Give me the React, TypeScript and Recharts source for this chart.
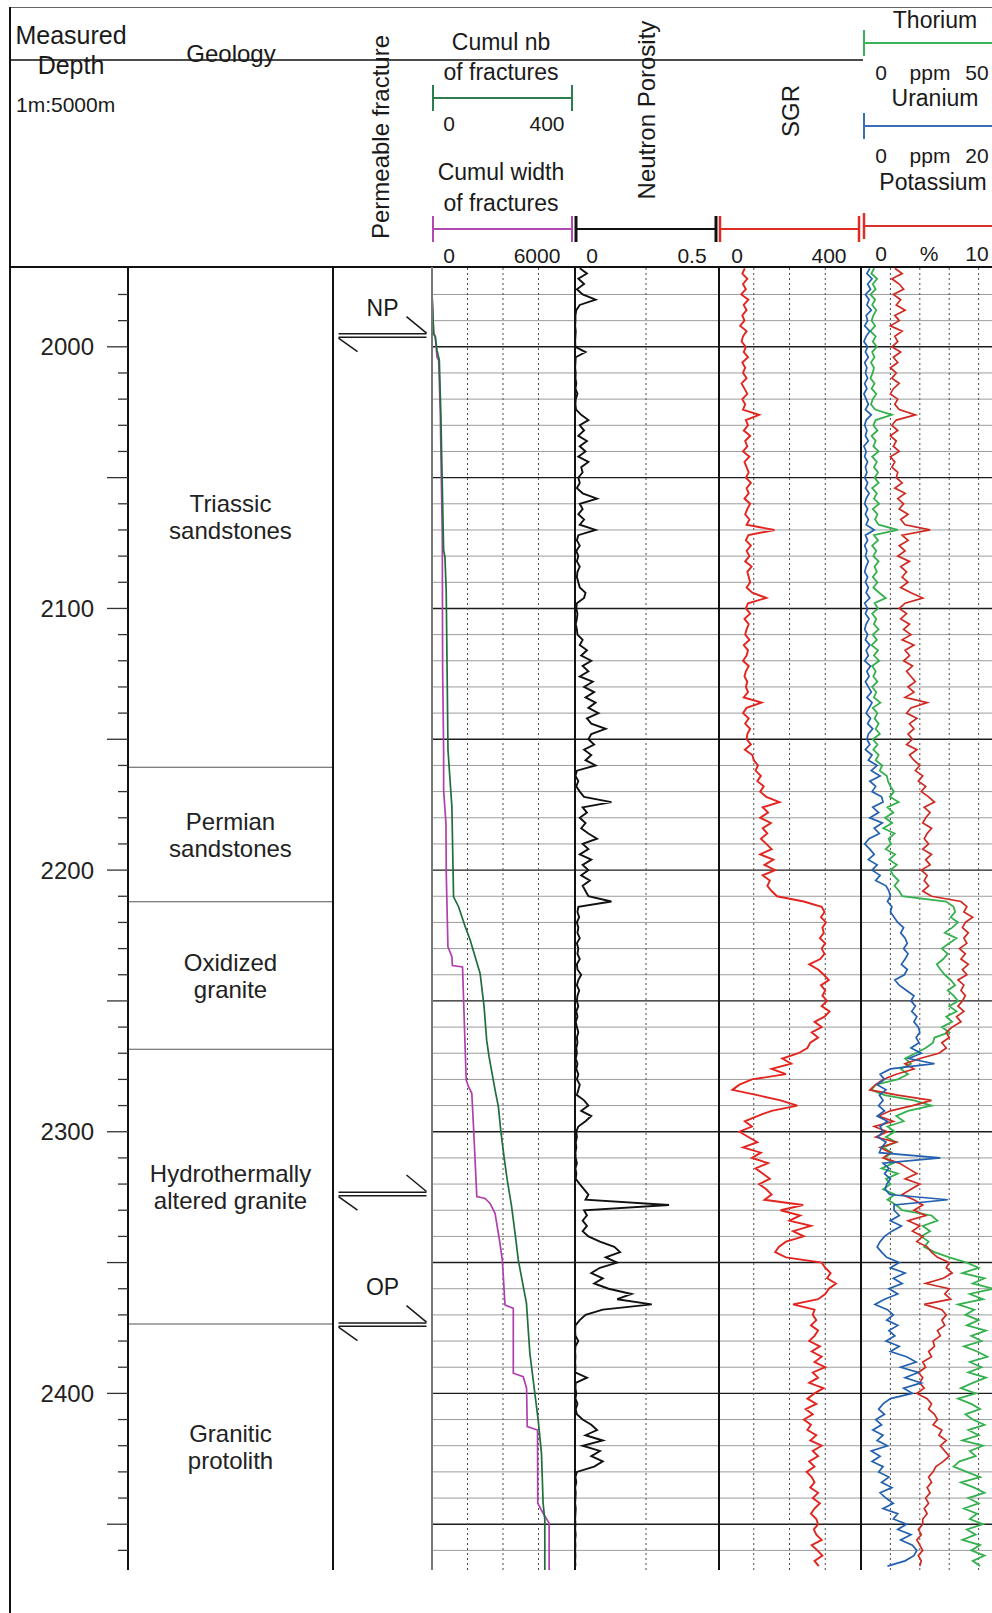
import React from "react";
import {
  ComposedChart,
  LineChart,
  Line,
  Scatter,
  XAxis,
  YAxis,
  ReferenceLine,
} from "recharts";

// depth window of the log body (m)
const DEPTH_TOP = 1969.5;
const DEPTH_BOTTOM = 2467.5;

// continuous logs, one sample every 2 m starting at 1970 m
const LOG_START = 1970;
const LOG_STEP = 2;

// neutron porosity (v/v), 0 - 0.5
const NEUTRON = [
  0.02, 0.045, 0.015, 0.035, 0.01, 0.03, 0.075, 0.02, 0.008, 0.005,
  0.005, 0.004, 0.006, 0.005, 0.004, 0.005, 0.04, 0.006, 0.005, 0.004,
  0.006, 0.005, 0.008, 0.005, 0.012, 0.006, 0.005, 0.007, 0.025, 0.05,
  0.02, 0.035, 0.015, 0.045, 0.02, 0.04, 0.015, 0.05, 0.025, 0.03,
  0.015, 0.02, 0.01, 0.03, 0.08, 0.02, 0.03, 0.015, 0.035, 0.02,
  0.075, 0.015, 0.01, 0.02, 0.008, 0.015, 0.01, 0.02, 0.012, 0.01,
  0.015, 0.02, 0.04, 0.035, 0.01, 0.008, 0.012, 0.01, 0.006, 0.01,
  0.012, 0.03, 0.02, 0.045, 0.025, 0.06, 0.03, 0.05, 0.02, 0.065,
  0.035, 0.07, 0.04, 0.075, 0.05, 0.085, 0.045, 0.06, 0.11, 0.06,
  0.05, 0.07, 0.035, 0.06, 0.04, 0.075, 0.01, 0.005, 0.015, 0.008,
  0.02, 0.035, 0.13, 0.03, 0.045, 0.02, 0.04, 0.025, 0.05, 0.08,
  0.03, 0.05, 0.02, 0.06, 0.03, 0.05, 0.025, 0.055, 0.03, 0.04,
  0.05, 0.13, 0.015, 0.012, 0.018, 0.01, 0.015, 0.012, 0.02, 0.01,
  0.015, 0.012, 0.02, 0.01, 0.012, 0.025, 0.015, 0.01, 0.018, 0.012,
  0.01, 0.015, 0.008, 0.012, 0.006, 0.01, 0.015, 0.01, 0.012, 0.008,
  0.01, 0.006, 0.012, 0.008, 0.015, 0.01, 0.02, 0.015, 0.01, 0.035,
  0.05, 0.025, 0.06, 0.04, 0.015, 0.008, 0.01, 0.006, 0.008, 0.005,
  0.006, 0.01, 0.005, 0.008, 0.006, 0.02, 0.035, 0.05, 0.04, 0.33,
  0.035, 0.045, 0.03, 0.045, 0.03, 0.05, 0.09, 0.14, 0.16, 0.11,
  0.15, 0.09, 0.06, 0.1, 0.07, 0.12, 0.2, 0.15, 0.27, 0.1,
  0.04, 0.02, 0.005, 0.004, 0.005, 0.015, 0.005, 0.004, 0.005, 0.004,
  0.005, 0.004, 0.045, 0.006, 0.005, 0.008, 0.005, 0.012, 0.006, 0.01,
  0.03, 0.06, 0.08, 0.04, 0.1, 0.03, 0.09, 0.06, 0.1, 0.07,
  0.01, 0.005, 0.008, 0.004, 0.006, 0.005, 0.004, 0.006, 0.005, 0.004,
  0.005, 0.004, 0.006, 0.004, 0.005, 0.004, 0.005, 0.004, 0.005,
];

// spectral gamma ray (API), 0 - 400
const SGR = [
  75, 68, 82, 70, 78, 65, 85, 72, 80, 68,
  74, 62, 80, 70, 66, 78, 72, 84, 68, 76,
  70, 80, 66, 74, 82, 68, 76, 70, 115, 78,
  84, 72, 90, 76, 82, 70, 88, 74, 80, 86,
  78, 92, 80, 86, 74, 90, 82, 76, 88, 80,
  158, 85, 78, 92, 80, 88, 76, 94, 82, 86,
  90, 80, 96, 135, 84, 78, 90, 74, 86, 80,
  76, 88, 72, 84, 80, 70, 86, 78, 74, 82,
  78, 84, 72, 122, 80, 70, 86, 76, 90, 82,
  80, 92, 75, 96, 100, 112, 105, 120, 110, 128,
  118, 135, 172, 125, 140, 118, 148, 125, 138, 120,
  135, 150, 118, 155, 130, 160, 125, 145, 138, 150,
  165, 240, 290, 298, 288, 302, 292, 296, 285, 300,
  290, 298, 286, 255, 280, 296, 310, 288, 300, 292,
  305, 290, 312, 298, 270, 290, 262, 280, 258, 250,
  225, 180, 205, 150, 190, 95, 60, 40, 110, 175,
  222, 150, 110, 75, 95, 60, 85, 110, 70, 120,
  95, 140, 105, 125, 145, 115, 135, 150, 130, 238,
  175, 230, 200, 260, 210, 240, 190, 170, 160, 190,
  290, 300, 315, 305, 330, 310, 300, 280, 210, 270,
  265, 275, 260, 280, 270, 255, 285, 262, 290, 270,
  300, 265, 280, 255, 295, 270, 250, 275, 245, 265,
  240, 260, 250, 275, 258, 290, 265, 280, 255, 270,
  248, 262, 270, 258, 280, 265, 285, 270, 260, 275,
  280, 268, 275, 290, 262, 278, 292, 270, 282,
];

// thorium (ppm), 0 - 50
const THORIUM = [
  4.5, 3.5, 5.5, 4.0, 5.0, 3.2, 4.8, 3.8, 5.2, 4.2,
  3.6, 4.8, 3.2, 5.0, 4.0, 5.4, 3.8, 4.6, 3.4, 4.4,
  4.0, 3.2, 4.6, 3.6, 5.2, 4.0, 3.4, 4.8, 10.5, 5.0,
  4.2, 5.6, 3.6, 5.0, 4.2, 6.0, 3.8, 5.4, 4.4, 5.8,
  4.6, 6.0, 3.8, 5.4, 4.4, 6.2, 4.0, 5.6, 4.8, 6.0,
  12.5, 4.4, 5.8, 3.8, 5.2, 4.2, 6.0, 4.6, 5.4, 4.0,
  5.6, 4.2, 6.2, 8.4, 4.6, 5.8, 3.8, 5.2, 4.4, 6.0,
  4.0, 5.4, 3.6, 5.8, 4.4, 6.2, 3.8, 5.0, 4.2, 5.6,
  3.8, 5.2, 4.4, 6.6, 4.0, 5.6, 4.6, 6.0, 5.0, 6.4,
  4.0, 5.6, 4.2, 6.0, 5.0, 7.2, 6.4, 8.8, 9.2, 10.0,
  11.2, 9.8, 12.8, 9.0, 11.0, 8.2, 10.6, 7.6, 11.4, 9.4,
  10.2, 8.4, 11.6, 9.6, 12.2, 10.0, 11.0, 12.8, 11.4, 13.0,
  14.0, 29.0, 31.5, 32.0, 30.5, 33.0, 31.0, 28.5, 32.5, 30.0,
  27.5, 29.5, 28.0, 25.8, 27.0, 28.5, 30.5, 32.0, 29.5, 31.5,
  33.0, 30.0, 32.5, 29.0, 31.0, 27.5, 30.0, 25.0, 24.5, 22.0,
  18.5, 15.0, 17.0, 13.5, 16.0, 12.5, 5.0, 3.5, 8.0, 18.0,
  24.0, 16.0, 12.0, 14.5, 9.0, 11.5, 8.5, 12.0, 7.5, 10.5,
  8.0, 11.0, 7.0, 12.5, 8.5, 10.0, 7.5, 11.5, 9.0, 12.0,
  14.0, 24.0, 26.0, 21.0, 23.5, 20.5, 23.0, 21.5, 25.0, 30.0,
  36.0, 40.0, 34.5, 42.0, 38.0, 45.0, 37.0, 41.5, 33.0, 38.5,
  35.5, 40.0, 36.0, 42.5, 37.5, 41.0, 35.0, 39.5, 43.0, 37.0,
  41.0, 36.5, 42.5, 38.0, 34.0, 39.0, 33.0, 37.5, 40.5, 35.5,
  38.0, 42.0, 36.5, 40.0, 34.5, 41.5, 37.0, 39.0, 33.5, 31.5,
  36.0, 40.5, 34.0, 38.5, 42.0, 36.5, 40.0, 35.0, 39.5, 37.0,
  41.5, 36.0, 39.0, 34.5, 40.5, 37.5, 42.0, 38.0, 40.5,
];

// uranium (ppm), 0 - 20
const URANIUM = [
  1.2, 0.8, 1.5, 0.9, 1.3, 0.6, 1.1, 0.8, 1.4, 0.7,
  0.9, 0.5, 1.2, 0.7, 0.4, 0.9, 0.6, 1.0, 0.5, 0.8,
  0.6, 0.9, 0.5, 0.8, 0.4, 0.7, 1.0, 0.6, 1.4, 0.7,
  0.5, 0.8, 0.6, 1.0, 0.4, 0.7, 0.5, 0.9, 0.6, 0.8,
  0.5, 0.9, 0.6, 1.1, 0.7, 0.5, 0.9, 0.6, 1.0, 0.7,
  1.8, 0.6, 0.9, 0.5, 0.8, 0.6, 1.0, 0.7, 0.5, 0.9,
  0.6, 1.0, 0.7, 1.2, 0.5, 0.9, 0.6, 1.1, 0.7, 0.5,
  0.9, 0.6, 1.2, 0.7, 1.0, 0.5, 1.3, 0.8, 1.1, 0.6,
  1.0, 1.4, 0.8, 1.5, 1.1, 0.7, 1.3, 0.9, 1.6, 1.0,
  0.8, 1.2, 0.6, 1.5, 1.0, 2.2, 1.4, 2.6, 1.2, 2.0,
  1.5, 2.8, 3.0, 1.6, 2.4, 1.2, 2.9, 1.8, 2.5, 1.1,
  0.5, 1.2, 1.8, 1.0, 2.2, 1.5, 2.6, 2.0, 3.4, 3.8,
  4.0, 3.6, 4.2, 4.0, 4.5, 5.0, 5.8, 5.4, 6.0, 6.3,
  5.8, 6.4, 6.0, 5.5, 6.3, 5.9, 4.6, 5.2, 6.2, 7.2,
  6.8, 7.4, 6.9, 7.6, 7.2, 7.8, 8.0, 7.5, 7.9, 6.8,
  8.2, 6.5, 10.0, 4.0, 2.6, 3.2, 2.2, 3.4, 2.5, 3.0,
  2.4, 3.2, 2.2, 3.6, 2.6, 3.0, 2.3, 3.4, 2.8, 2.5,
  10.8, 3.0, 3.8, 3.2, 4.0, 3.5, 3.3, 3.9, 11.8, 4.5,
  4.5, 5.2, 4.0, 5.5, 4.2, 3.2, 2.6, 2.2, 2.8, 3.5,
  5.2, 4.0, 6.0, 4.4, 5.6, 3.8, 5.0, 3.2, 1.9, 3.6,
  4.4, 3.5, 5.0, 3.8, 4.6, 3.4, 5.2, 4.0, 6.2, 7.5,
  5.4, 7.8, 6.0, 8.2, 5.8, 7.0, 4.0, 3.0, 2.4, 3.2,
  2.0, 2.8, 1.6, 3.0, 2.2, 3.6, 1.4, 2.6, 1.5, 3.0,
  2.4, 3.8, 2.8, 4.2, 2.6, 3.4, 4.4, 3.0, 5.0, 4.4,
  6.2, 5.0, 6.8, 5.4, 7.0, 7.6, 7.2, 6.0, 3.6,
];

// potassium (%), 0 - 10
const POTASSIUM = [
  2.3, 2.8, 2.1, 2.6, 2.9, 2.2, 2.7, 2.4, 3.0, 2.3,
  2.6, 2.0, 2.8, 2.3, 2.5, 2.1, 2.7, 2.2, 2.5, 2.0,
  2.4, 2.1, 2.6, 2.2, 2.0, 2.5, 2.3, 2.6, 3.7, 2.4,
  2.1, 2.5, 2.0, 2.4, 2.2, 2.6, 2.0, 2.3, 2.1, 2.5,
  2.4, 2.8, 2.3, 3.0, 2.5, 2.9, 2.6, 3.2, 2.7, 3.0,
  4.7, 2.8, 3.2, 2.6, 3.0, 2.5, 3.3, 2.7, 3.1, 2.8,
  3.2, 2.7, 3.4, 4.2, 3.0, 2.6, 3.1, 2.7, 3.3, 2.9,
  3.4, 2.8, 3.6, 3.0, 3.3, 2.9, 3.5, 3.1, 3.4, 3.7,
  3.2, 3.6, 3.0, 4.5, 3.4, 3.1, 3.8, 3.3, 3.6, 3.2,
  3.5, 3.1, 3.8, 3.3, 3.6, 4.0, 3.7, 4.2, 3.9, 4.4,
  4.1, 4.6, 5.0, 4.3, 4.7, 4.4, 4.2, 4.8, 4.5, 4.3,
  4.6, 4.2, 4.8, 4.4, 4.7, 4.1, 4.5, 4.3, 4.6, 4.2,
  4.8, 6.8, 7.2, 7.0, 7.6, 7.1, 6.9, 7.3, 7.0, 7.2,
  6.7, 7.1, 6.8, 7.3, 6.9, 7.2, 6.6, 7.0, 6.8, 7.1,
  6.9, 6.6, 7.0, 6.5, 6.8, 6.2, 5.8, 6.0, 5.5, 5.8,
  5.3, 4.0, 3.0, 3.6, 2.4, 1.5, 1.0, 0.6, 2.5, 4.8,
  3.5, 2.0, 1.2, 2.2, 0.9, 1.8, 1.0, 2.4, 1.3, 2.0,
  1.5, 2.6, 3.2, 3.8, 3.0, 4.0, 3.4, 2.8, 3.6, 4.2,
  3.6, 4.4, 3.2, 4.0, 3.5, 4.2, 3.8, 4.5, 4.8, 5.2,
  6.0, 5.8, 6.2, 5.6, 4.4, 6.0, 5.7, 6.1, 4.3, 5.5,
  5.8, 5.5, 5.7, 5.2, 5.4, 4.9, 5.0, 4.6, 4.8, 4.2,
  4.4, 3.9, 4.2, 4.0, 4.3, 3.8, 4.5, 4.8, 4.6, 5.0,
  5.2, 4.9, 5.5, 5.3, 5.8, 5.4, 5.7, 6.0, 5.6, 5.1,
  4.9, 4.6, 4.8, 4.5, 4.7, 4.4, 4.6, 4.3, 4.5, 4.2,
  4.2, 3.9, 4.1, 3.8, 4.0, 4.2, 3.9, 4.1, 4.0,
];

// cumulative number of fractures (0 - 400), read at its break points
const NB_DEPTH = [
  1979.6, 1994.9, 1996.2, 2001.3, 2005.1, 2026.7, 2077.7, 2080.2, 2093, 2141.4,
  2154, 2175.8, 2210.2, 2214, 2221.6, 2226.7, 2233.1, 2239.5, 2252.2, 2265,
  2271.3, 2284, 2290.4, 2299.3, 2309.5, 2318.5, 2328.6, 2341.4, 2349, 2365.5,
  2384.7, 2400, 2410, 2422.9, 2442, 2448.4, 2467.5,
];
const NB_VALUE = [
  0, 4.7, 9.3, 14, 20.6, 25, 32.7, 36.4, 40, 44,
  45, 56, 60.7, 74.8, 93.5, 107.5, 121.5, 135.5, 146.7, 154,
  160.7, 177.6, 187, 193.5, 202.8, 212, 224.3, 236.4, 243, 266,
  275.7, 289.7, 299, 308.4, 313, 317.8, 317.8,
];

// cumulative width of fractures (0 - 6000), read at its break points
const WIDTH_DEPTH = [
  1979.6, 1994.9, 1996.2, 2003.9, 2005.1, 2024.2, 2049.7, 2072.6, 2122.3, 2154.2,
  2169.4, 2182.1, 2201.3, 2229.3, 2233.1, 2236.5, 2237, 2280.2, 2282.8, 2285.3,
  2298, 2324.8, 2325.5, 2327.4, 2331.2, 2341.3, 2349, 2366.2, 2367.5, 2392.3,
  2393.6, 2398, 2412.7, 2414, 2442, 2445.8, 2449.6, 2467.5,
];
const WIDTH_VALUE = [
  0, 70, 140, 210, 280, 350, 393, 435, 449, 491,
  491, 589, 603, 673, 841, 860, 1290, 1444, 1542, 1682,
  1753, 1893, 2243, 2454, 2664, 2850, 2972, 3084, 3435, 3435,
  3855, 3996, 4024, 4458, 4470, 4697, 4949, 4949,
];

// geology column
const GEOLOGY_TOP = [1969.5, 2160.7, 2212.1, 2268.5, 2373.5];
const GEOLOGY_BASE = [2160.7, 2212.1, 2268.5, 2373.5, 2467.5];
const GEOLOGY_NAME = [
  ["Triassic", "sandstones"],
  ["Permian", "sandstones"],
  ["Oxidized", "granite"],
  ["Hydrothermally", "altered granite"],
  ["Granitic", "protolith"],
];

// permeable fractures
const FRACTURE_DEPTH = [1995.7, 2323.8, 2373.7];
const FRACTURE_LABEL = ["NP", "", "OP"];

const DEPTH_LABELS = [2000, 2100, 2200, 2300, 2400];

const GRID_DEPTHS: number[] = [];
for (let d = 1980; d <= 2460; d += 10) GRID_DEPTHS.push(d);

const logRows = NEUTRON.map((neutron, i) => ({
  depth: LOG_START + i * LOG_STEP,
  neutron,
  sgr: SGR[i],
  th: THORIUM[i],
  u: URANIUM[i],
  k: POTASSIUM[i],
}));
const nbRows = NB_DEPTH.map((depth, i) => ({ depth, nb: NB_VALUE[i] }));
const widthRows = WIDTH_DEPTH.map((depth, i) => ({ depth, wd: WIDTH_VALUE[i] }));
const fractureRows = FRACTURE_DEPTH.map((depth, i) => ({ depth, pos: 0.5, label: FRACTURE_LABEL[i] }));
const geologyRows = GEOLOGY_NAME.map((lines, i) => ({
  depth: (GEOLOGY_TOP[i] + GEOLOGY_BASE[i]) / 2,
  pos: 0.5,
  lines,
}));

const BODY_TOP = 267;
const BODY_H = 1303;
const FONT = '"Liberation Sans", Arial, sans-serif';
const NO_MARGIN = { top: 0, right: 0, bottom: 0, left: 0 };

function depthAxis() {
  return (
    <YAxis
      type="number"
      dataKey="depth"
      domain={[DEPTH_TOP, DEPTH_BOTTOM]}
      allowDataOverflow
      hide
    />
  );
}

function depthGrid(xAxisId: string, dotted: number[]) {
  return [
    ...GRID_DEPTHS.map((d) => (
      <ReferenceLine
        key={"h" + d}
        xAxisId={xAxisId}
        y={d}
        stroke={d % 50 === 0 ? "#1c1c1c" : "#9c9c9c"}
        strokeWidth={d % 50 === 0 ? 1.4 : 1}
      />
    )),
    ...dotted.map((v) => (
      <ReferenceLine
        key={"v" + v}
        xAxisId={xAxisId}
        x={v}
        stroke="#4a4a4a"
        strokeWidth={1}
        strokeDasharray="2 3"
      />
    )),
  ];
}

function DepthTick(props: any) {
  const { x, y, payload } = props;
  const d = payload.value;
  const len = d % 50 === 0 ? 21 : 10;
  return (
    <g>
      <line x1={x - len} x2={x} y1={y} y2={y} stroke="#333" strokeWidth={1.3} />
      {DEPTH_LABELS.includes(d) && (
        <text x={x - 34} y={y} dy="0.36em" textAnchor="end" fontSize={24} fill="#222">
          {d}
        </text>
      )}
    </g>
  );
}

function FractureSymbol(props: any) {
  const { cx, cy, payload } = props;
  const h = 44;
  return (
    <g>
      <g stroke="#1a1a1a" strokeWidth={1.5} fill="none">
        <line x1={cx - h} x2={cx + h} y1={cy - 1.7} y2={cy - 1.7} />
        <line x1={cx + h} y1={cy - 2.5} x2={cx + 24} y2={cy - 19} />
        <line x1={cx - h} x2={cx + h} y1={cy + 1.7} y2={cy + 1.7} />
        <line x1={cx - h} y1={cy + 2.5} x2={cx - 25} y2={cy + 16} />
      </g>
      {payload.label ? (
        <text
          x={cx}
          y={cy - (payload.label === "OP" ? 38 : 28)}
          dy="0.36em"
          textAnchor="middle"
          fontSize={23}
          fill="#1a1a1a"
        >
          {payload.label}
        </text>
      ) : null}
    </g>
  );
}

function GeologyLabel(props: any) {
  const { cx, cy, payload } = props;
  return (
    <text textAnchor="middle" fontSize={24} fill="#222">
      <tspan x={cx} y={cy - 13.5} dy="0.36em">{payload.lines[0]}</tspan>
      <tspan x={cx} y={cy + 13.5} dy="0.36em">{payload.lines[1]}</tspan>
    </text>
  );
}

function Header() {
  const t = (x: number, y: number, s: string, size = 23, anchor = "middle") => (
    <text x={x} y={y} dy="0.36em" textAnchor={anchor as any} fontSize={size} fill="#1a1a1a">
      {s}
    </text>
  );
  const vt = (x: number, y: number, s: string) => (
    <text
      x={x}
      y={y}
      dy="0.36em"
      textAnchor="middle"
      fontSize={24}
      fill="#1a1a1a"
      transform={`rotate(-90 ${x} ${y})`}
    >
      {s}
    </text>
  );
  const bar = (x1: number, x2: number, y: number, color: string, w = 1.8, tick = 2) => (
    <g stroke={color}>
      <line x1={x1} x2={x2} y1={y} y2={y} strokeWidth={w} />
      <line x1={x1 + 1} x2={x1 + 1} y1={y - 13} y2={y + 13} strokeWidth={tick} />
      {x2 < 990 && <line x1={x2 - 1} x2={x2 - 1} y1={y - 13} y2={y + 13} strokeWidth={tick} />}
    </g>
  );
  return (
    <svg width={992} height={270} style={{ position: "absolute", left: 0, top: 0 }}>
      <line x1={10} x2={992} y1={7.5} y2={7.5} stroke="#666" strokeWidth={1} />
      <line x1={10} x2={863} y1={60} y2={60} stroke="#111" strokeWidth={1.6} />
      <line x1={10} x2={992} y1={267} y2={267} stroke="#111" strokeWidth={2} />
      {t(71, 35, "Measured", 25)}
      {t(71, 65, "Depth", 25)}
      {t(16, 104, "1m:5000m", 21, "start")}
      {t(231, 53, "Geology", 24)}
      {vt(380, 137, "Permeable fracture")}
      {t(501, 42, "Cumul nb")}
      {t(501, 72, "of fractures")}
      {bar(432, 573, 98, "#2e7d4e")}
      {t(449, 123, "0", 21)}
      {t(547, 123, "400", 21)}
      {t(501, 172, "Cumul width")}
      {t(501, 203, "of fractures")}
      {bar(432, 573, 229, "#b04ab0")}
      {t(449, 255, "0", 21)}
      {t(537, 255, "6000", 21)}
      {bar(575, 717, 229, "#111", 1.8, 3)}
      {t(592, 255, "0", 21)}
      {t(692, 255, "0.5", 21)}
      {vt(646, 110, "Neutron Porosity")}
      {bar(719, 860, 229, "#e02a22", 1.8, 2.5)}
      {t(737, 255, "0", 21)}
      {t(829, 255, "400", 21)}
      {vt(790, 111, "SGR")}
      {t(935, 20, "Thorium")}
      {bar(863, 995, 43, "#3cb55a")}
      {t(881, 72, "0", 21)}
      {t(930, 72, "ppm", 21)}
      {t(977, 72, "50", 21)}
      {t(935, 98, "Uranium")}
      {bar(863, 995, 126, "#3a6fb8")}
      {t(881, 155, "0", 21)}
      {t(930, 155, "ppm", 21)}
      {t(977, 155, "20", 21)}
      {t(933, 182, "Potassium")}
      {bar(863, 995, 226, "#d8302a", 1.8, 2.5)}
      {t(881, 253, "0", 21)}
      {t(929, 253, "%", 21)}
      {t(977, 253, "10", 21)}
    </svg>
  );
}

const track = (left: number): React.CSSProperties => ({ position: "absolute", left, top: BODY_TOP });
const vline = (left: number, w: number, color: string): React.CSSProperties => ({
  position: "absolute",
  left: left - w / 2,
  top: BODY_TOP,
  width: w,
  height: BODY_H,
  background: color,
});

export default function App() {
  return (
    <div
      style={{
        position: "absolute",
        left: 0,
        top: 0,
        width: 992,
        height: 1613,
        overflow: "hidden",
        background: "#fff",
        fontFamily: FONT,
      }}
    >
      <Header />
      <div style={{ position: "absolute", left: 9, top: 7, width: 2, height: 1606, background: "#111" }} />

      {/* depth scale + geology */}
      <div style={track(10)}>
        <ComposedChart layout="vertical" width={325} height={BODY_H} data={geologyRows} margin={{ top: 0, right: 2, bottom: 0, left: 0 }}>
          <XAxis type="number" dataKey="pos" domain={[0, 1]} hide />
          <YAxis
            type="number"
            dataKey="depth"
            domain={[DEPTH_TOP, DEPTH_BOTTOM]}
            allowDataOverflow
            ticks={GRID_DEPTHS}
            interval={0}
            width={118}
            tickLine={false}
            tickSize={0}
            tickMargin={0}
            tick={<DepthTick />}
            axisLine={{ stroke: "#111", strokeWidth: 2 }}
          />
          {GEOLOGY_TOP.slice(1).map((d) => (
            <ReferenceLine key={"b" + d} y={d} stroke="#555" strokeWidth={1.1} />
          ))}
          <ReferenceLine x={1} stroke="#111" strokeWidth={2} />
          <Scatter data={geologyRows} dataKey="pos" shape={<GeologyLabel />} isAnimationActive={false} />
        </ComposedChart>
      </div>

      {/* permeable fractures */}
      <div style={track(333)}>
        <ComposedChart layout="vertical" width={99} height={BODY_H} data={fractureRows} margin={NO_MARGIN}>
          <XAxis type="number" dataKey="pos" domain={[0, 1]} hide />
          {depthAxis()}
          <Scatter data={fractureRows} dataKey="pos" shape={<FractureSymbol />} isAnimationActive={false} />
        </ComposedChart>
      </div>

      {/* cumulative fractures */}
      <div style={track(432)}>
        <LineChart layout="vertical" width={142} height={BODY_H} margin={NO_MARGIN}>
          <XAxis xAxisId="nb" type="number" domain={[0, 400]} allowDataOverflow hide />
          <XAxis xAxisId="wd" type="number" domain={[0, 6000]} allowDataOverflow hide />
          {depthAxis()}
          {depthGrid("nb", [100, 200, 300])}
          <Line data={widthRows} xAxisId="wd" dataKey="wd" stroke="#b03fae" strokeWidth={1.7} dot={false} isAnimationActive={false} />
          <Line data={nbRows} xAxisId="nb" dataKey="nb" stroke="#1f6f3d" strokeWidth={1.7} dot={false} isAnimationActive={false} />
        </LineChart>
      </div>

      {/* neutron porosity */}
      <div style={track(574)}>
        <LineChart layout="vertical" width={144} height={BODY_H} data={logRows} margin={NO_MARGIN}>
          <XAxis xAxisId="n" type="number" domain={[0, 0.5]} allowDataOverflow hide />
          {depthAxis()}
          {depthGrid("n", [0.25])}
          <Line xAxisId="n" dataKey="neutron" stroke="#111" strokeWidth={1.9} dot={false} isAnimationActive={false} />
        </LineChart>
      </div>

      {/* spectral gamma ray */}
      <div style={track(718)}>
        <LineChart layout="vertical" width={143} height={BODY_H} data={logRows} margin={NO_MARGIN}>
          <XAxis xAxisId="g" type="number" domain={[0, 400]} allowDataOverflow hide />
          {depthAxis()}
          {depthGrid("g", [100, 200, 300])}
          <Line xAxisId="g" dataKey="sgr" stroke="#e3241f" strokeWidth={1.9} dot={false} isAnimationActive={false} />
        </LineChart>
      </div>

      {/* thorium / uranium / potassium */}
      <div style={track(861)}>
        <LineChart layout="vertical" width={147} height={BODY_H} data={logRows} margin={NO_MARGIN}>
          <XAxis xAxisId="k" type="number" domain={[0, 10]} allowDataOverflow hide />
          <XAxis xAxisId="th" type="number" domain={[0, 50]} allowDataOverflow hide />
          <XAxis xAxisId="u" type="number" domain={[0, 20]} allowDataOverflow hide />
          {depthAxis()}
          {depthGrid("k", [2, 4, 6, 8])}
          <Line xAxisId="th" dataKey="th" stroke="#35b04f" strokeWidth={1.8} dot={false} isAnimationActive={false} />
          <Line xAxisId="k" dataKey="k" stroke="#cf2a22" strokeWidth={1.7} dot={false} isAnimationActive={false} />
          <Line xAxisId="u" dataKey="u" stroke="#2360b0" strokeWidth={1.7} dot={false} isAnimationActive={false} />
        </LineChart>
      </div>

      {/* track borders */}
      <div style={vline(432, 1.2, "#777")} />
      <div style={vline(574.5, 2, "#111")} />
      <div style={vline(718.5, 2, "#111")} />
      <div style={vline(861, 2, "#111")} />
    </div>
  );
}
